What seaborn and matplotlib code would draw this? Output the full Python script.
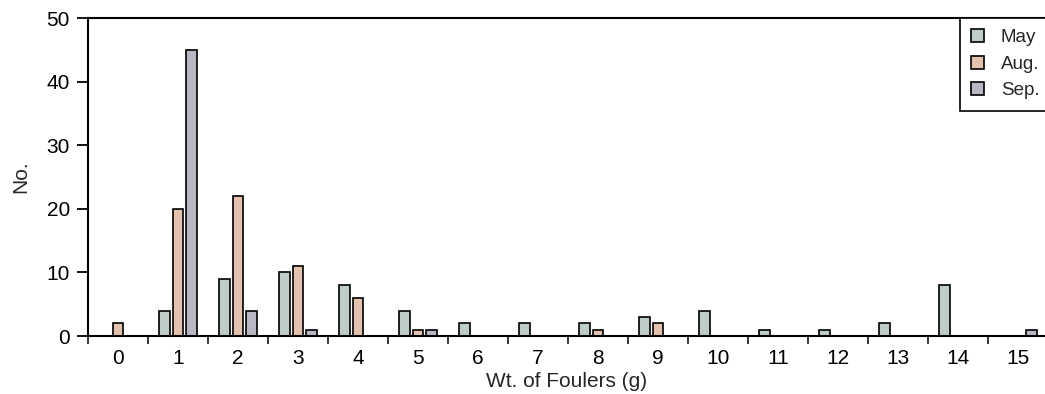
import matplotlib
matplotlib.use("Agg")
import matplotlib.pyplot as plt
import seaborn as sns
import pandas as pd

categories = list(range(16))
may = [0, 4, 9, 10, 8, 4, 2, 2, 2, 3, 4, 1, 1, 2, 8, 0]
aug = [2, 20, 22, 11, 6, 1, 0, 0, 1, 2, 0, 0, 0, 0, 0, 0]
sep = [0, 45, 4, 1, 0, 1, 0, 0, 0, 0, 0, 0, 0, 0, 0, 1]
series_names = ["May", "Aug.", "Sep."]
colors = ["#bccfc6", "#ebbfa8", "#b6b6c6"]

rows = []
for name, vals in zip(series_names, [may, aug, sep]):
    for c, v in zip(categories, vals):
        if v > 0:
            rows.append({"wt": str(c), "n": v, "month": name})
df = pd.DataFrame(rows)

sns.set_style("ticks")
plt.rcParams["font.family"] = ["Liberation Sans", "DejaVu Sans"]

fig = plt.figure(figsize=(10.45, 3.94), dpi=100)
ax = fig.add_axes([0.0842, 0.147, 0.9158, 0.807])

sns.barplot(data=df, x="wt", y="n", hue="month",
            order=[str(c) for c in categories], hue_order=series_names,
            palette=colors, width=0.675, gap=0.2, dodge=True,
            edgecolor="black", linewidth=1.2, ax=ax)

ax.set_ylim(0, 50)
ax.set_xlim(-0.5, 15.45)
ax.set_yticks([0, 10, 20, 30, 40, 50])
ax.tick_params(axis="y", direction="out", length=8, width=1.3, labelsize=15, pad=5, colors="black")
ax.tick_params(axis="x", length=0, labelsize=15, pad=9, colors="black")
ax.set_xticks([i + 0.5 for i in range(-1, 15)], minor=True)
ax.tick_params(axis="x", which="minor", direction="out", length=6, width=1.3)

for s in ["left", "bottom", "top"]:
    ax.spines[s].set_visible(True)
    ax.spines[s].set_linewidth(1.5)
    ax.spines[s].set_color("black")
ax.spines["right"].set_visible(False)

ax.set_xlabel("Wt. of Foulers (g)", fontsize=15, labelpad=3)
ax.set_ylabel("No.", fontsize=15, labelpad=12)

leg = ax.legend(loc="upper right", bbox_to_anchor=(1.006, 1.0), fontsize=13.5,
                frameon=True, fancybox=False, edgecolor="black",
                handlelength=0.7, handleheight=0.7, handletextpad=0.9,
                borderpad=0.6, labelspacing=0.5, borderaxespad=0)
leg.get_frame().set_linewidth(1.2)
leg.get_frame().set_alpha(1)

fig.savefig("out.png", dpi=100)
